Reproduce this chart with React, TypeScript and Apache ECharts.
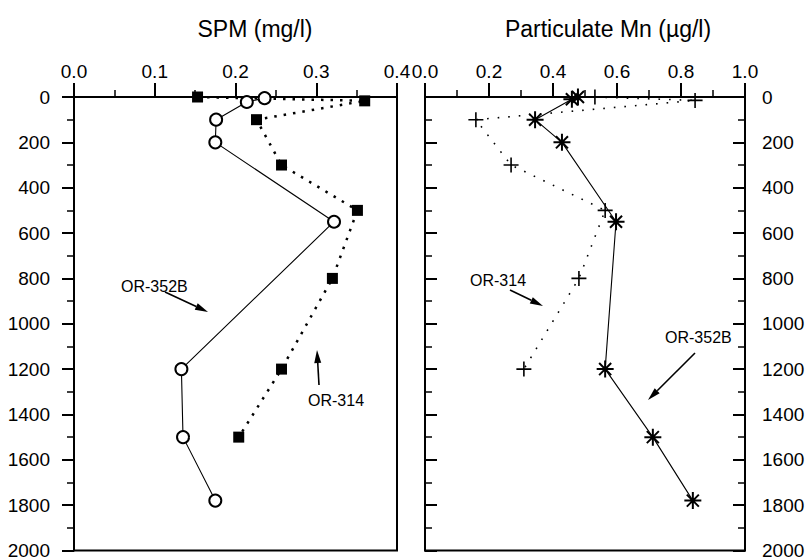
import React, { useEffect, useRef } from "react";
import * as echarts from "echarts";

// ---- Data ----
// SPM (mg/l) vs depth (m)
const spm314Depth = [0, 17, 100, 300, 500, 800, 1200, 1500];
const spm314 = [0.153, 0.36, 0.226, 0.257, 0.351, 0.32, 0.257, 0.204];
const spm352Depth = [5, 22, 100, 200, 550, 1200, 1500, 1780];
const spm352 = [0.236, 0.214, 0.176, 0.175, 0.322, 0.133, 0.135, 0.175];
// Particulate Mn (µg/l) vs depth (m)
const mn352Depth = [0, 10, 100, 200, 550, 1200, 1500, 1780];
const mn352 = [0.478, 0.459, 0.344, 0.428, 0.597, 0.563, 0.712, 0.837];
const mn314Depth = [0, 15, 100, 300, 500, 800, 1200];
const mn314 = [0.531, 0.844, 0.159, 0.269, 0.563, 0.481, 0.309];

const titles = ["SPM (mg/l)", "Particulate Mn (µg/l)"];
const FONT = '"Liberation Sans", Arial, Helvetica, sans-serif';

const PLUS = "path://M0,5 L10,5 M5,0 L5,10";
const STAR = "path://M0,5 L10,5 M5,0 L5,10 M1.46,1.46 L8.54,8.54 M1.46,8.54 L8.54,1.46";

function pairs(vals: number[], depths: number[]) {
  return vals.map((v, i) => [v, depths[i]]);
}

function arrow(x1: number, y1: number, x2: number, y2: number) {
  const dx = x2 - x1;
  const dy = y2 - y1;
  const len = Math.sqrt(dx * dx + dy * dy);
  const ux = dx / len;
  const uy = dy / len;
  const hl = 13;
  const hw = 3.5;
  const bx = x2 - ux * hl;
  const by = y2 - uy * hl;
  return [
    {
      type: "line",
      shape: { x1, y1, x2: bx, y2: by },
      style: { stroke: "#000", lineWidth: 1.6 },
      silent: true,
    },
    {
      type: "polygon",
      shape: {
        points: [
          [x2, y2],
          [bx - uy * hw, by + ux * hw],
          [bx + uy * hw, by - ux * hw],
        ],
      },
      style: { fill: "#000" },
      silent: true,
    },
  ];
}

function label(text: string, x: number, y: number) {
  return {
    type: "text",
    x,
    y,
    style: {
      text,
      fill: "#000",
      font: `16px ${FONT}`,
      textAlign: "left",
      textVerticalAlign: "middle",
    },
    silent: true,
  };
}

export default function App() {
  const ref = useRef<HTMLDivElement>(null);

  useEffect(() => {
    if (!ref.current) return;
    const chart = echarts.init(ref.current, undefined, { renderer: "svg" });

    const xCommon = (gridIndex: number, max: number, interval: number) => ({
      type: "value",
      gridIndex,
      position: "top",
      min: 0,
      max,
      interval,
      axisLine: { show: true, onZero: false, lineStyle: { color: "#000", width: 2 } },
      axisTick: { show: true, inside: false, length: 14, lineStyle: { color: "#000", width: 2 } },
      minorTick: { show: true, splitNumber: 2, length: 7, lineStyle: { color: "#000", width: 1.5 } },
      splitLine: { show: false },
      minorSplitLine: { show: false },
      axisLabel: {
        show: true,
        margin: 16,
        color: "#000",
        fontSize: 19,
        fontFamily: FONT,
        formatter: (v: number) => v.toFixed(1),
        showMaxLabel: true,
        showMinLabel: true,
      },
    });

    const yCommon = (
      gridIndex: number,
      position: string,
      inside: boolean,
      showLabel: boolean,
      margin: number
    ) => ({
      type: "value",
      gridIndex,
      position,
      inverse: true,
      min: 0,
      max: 2000,
      interval: 200,
      axisLine: { show: true, onZero: false, lineStyle: { color: "#000", width: 2 } },
      axisTick: { show: true, inside, length: 12, lineStyle: { color: "#000", width: 2 } },
      minorTick: { show: true, splitNumber: 2, length: 7, lineStyle: { color: "#000", width: 1.5 } },
      splitLine: { show: false },
      minorSplitLine: { show: false },
      axisLabel: {
        show: showLabel,
        inside: false,
        margin,
        color: "#000",
        fontSize: 19,
        fontFamily: FONT,
        formatter: (v: number) => String(v),
        showMaxLabel: true,
        showMinLabel: true,
      },
    });

    const graphics: any[] = [
      {
        type: "text",
        x: 255,
        y: 29,
        style: {
          text: titles[0],
          fill: "#000",
          font: `23px ${FONT}`,
          textAlign: "center",
          textVerticalAlign: "middle",
        },
      },
      {
        type: "text",
        x: 608,
        y: 29,
        style: {
          text: titles[1],
          fill: "#000",
          font: `23px ${FONT}`,
          textAlign: "center",
          textVerticalAlign: "middle",
        },
      },
      label("OR-352B", 121, 286),
      ...arrow(165, 292, 208, 312),
      label("OR-314", 308, 400),
      ...arrow(319, 385, 317, 350),
      label("OR-314", 470, 280),
      ...arrow(510, 290, 543, 306),
      label("OR-352B", 665, 337),
      ...arrow(695, 353, 648, 400),
    ];

    chart.setOption({
      animation: false,
      backgroundColor: "#fff",
      textStyle: { fontFamily: FONT },
      grid: [
        { left: 74, top: 97, width: 323, height: 458, show: true, borderColor: "#000", borderWidth: 2, backgroundColor: "transparent" },
        { left: 425, top: 97, width: 320, height: 458, show: true, borderColor: "#000", borderWidth: 2, backgroundColor: "transparent" },
      ],
      xAxis: [xCommon(0, 0.4, 0.1), xCommon(1, 1.0, 0.2)],
      yAxis: [
        yCommon(0, "left", false, true, 24),
        yCommon(1, "right", true, true, 17),
        yCommon(1, "left", true, false, 8),
      ],
      series: [
        {
          name: "OR-314 SPM",
          type: "line",
          xAxisIndex: 0,
          yAxisIndex: 0,
          data: pairs(spm314, spm314Depth),
          symbol: "rect",
          symbolSize: 11,
          showSymbol: true,
          clip: false,
          silent: true,
          lineStyle: { color: "#000", width: 2.5, type: [2.5, 7] },
          itemStyle: { color: "#000" },
          z: 3,
        },
        {
          name: "OR-352B SPM",
          type: "line",
          xAxisIndex: 0,
          yAxisIndex: 0,
          data: pairs(spm352, spm352Depth),
          symbol: "emptyCircle",
          symbolSize: 12,
          showSymbol: true,
          clip: false,
          silent: true,
          lineStyle: { color: "#000", width: 1.1 },
          itemStyle: { color: "#000", borderColor: "#000", borderWidth: 1.3 },
          z: 4,
        },
        {
          name: "OR-314 Mn",
          type: "line",
          xAxisIndex: 1,
          yAxisIndex: 1,
          data: pairs(mn314, mn314Depth),
          symbol: PLUS,
          symbolSize: 15,
          showSymbol: true,
          clip: false,
          silent: true,
          lineStyle: { color: "#000", width: 1.6, type: [1.6, 9] },
          itemStyle: { color: "#000", borderColor: "#000", borderWidth: 1.6 },
          z: 3,
        },
        {
          name: "OR-352B Mn",
          type: "line",
          xAxisIndex: 1,
          yAxisIndex: 1,
          data: pairs(mn352, mn352Depth),
          symbol: STAR,
          symbolSize: 17,
          showSymbol: true,
          clip: false,
          silent: true,
          lineStyle: { color: "#000", width: 1.1 },
          itemStyle: { color: "#000", borderColor: "#000", borderWidth: 2 },
          z: 4,
        },
      ],
      graphic: graphics,
    });

    return () => {
      chart.dispose();
    };
  }, []);

  return (
    <div
      ref={ref}
      style={{ position: "fixed", left: 0, top: 0, width: 809, height: 560, background: "#fff" }}
    />
  );
}
